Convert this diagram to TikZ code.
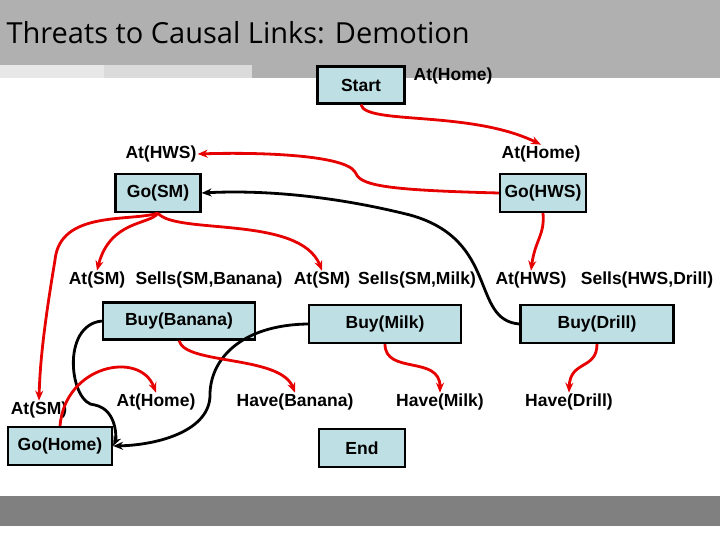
\documentclass[tikz,border=0pt]{standalone}
\usepackage{fontspec}
\setmainfont{Liberation Sans}
\newfontfamily\titlefont{Open Sans}
\usetikzlibrary{arrows.meta}
\definecolor{boxblue}{RGB}{190,223,227}
\definecolor{linkred}{RGB}{230,0,0}
\begin{document}
\begin{tikzpicture}[x=1pt,y=-1pt,
    action/.style={draw,line width=2.2pt,fill=boxblue,font=\bfseries\fontsize{17.5}{19}\selectfont,inner sep=0pt},
    cond/.style={font=\bfseries\fontsize{17.5}{19}\selectfont,inner sep=1pt},
    causal/.style={-{Stealth[length=10pt,width=8pt]},linkred,line width=2.8pt},
    order/.style={-{Stealth[length=10pt,width=8pt]},black,line width=2.8pt}]
    \useasboundingbox (0,0) rectangle (720,540);
    % title bar
    \fill[black!31] (0,0) rectangle (720,78);
    \fill[black!9] (0,65) rectangle (104,78);
    \fill[black!14] (104,65) rectangle (252,78);
    \node[anchor=west,font=\titlefont\fontsize{29}{33}\selectfont] (title) at (3,33) {Threats to Causal Links: Demotion};
    \fill[black!50] (0,496) rectangle (720,526);

    % actions
    \node[action,minimum width=87pt,minimum height=37pt] (start) at (361,85) {Start};
    \node[action,minimum width=85pt,minimum height=38pt] (gosm) at (158,193) {Go(SM)};
    \node[action,minimum width=86pt,minimum height=38pt] (gohws) at (543,193) {Go(HWS)};
    \node[action,minimum width=152pt,minimum height=37pt] (buyban) at (179,321) {Buy(Banana)};
    \node[action,minimum width=152pt,minimum height=38pt] (buymilk) at (385,324) {Buy(Milk)};
    \node[action,minimum width=153pt,minimum height=38pt] (buydrill) at (597,324) {Buy(Drill)};
    \node[action,minimum width=104pt,minimum height=38pt] (gohome) at (60,446) {Go(Home)};
    \node[action,minimum width=86pt,minimum height=38pt] (end) at (362,448) {End};

    % conditions
    \node[cond] (athome0) at (453,76) {At(Home)};
    \node[cond] (athws1) at (161,154) {At(HWS)};
    \node[cond] (athome1) at (541,154) {At(Home)};
    \node[cond] (atsm1) at (97,280) {At(SM)};
    \node[cond] (sellsban) at (209,280) {Sells(SM,Banana)};
    \node[cond] (atsm2) at (322,280) {At(SM)};
    \node[cond] (sellsmilk) at (417,280) {Sells(SM,Milk)};
    \node[cond] (athws2) at (531,280) {At(HWS)};
    \node[cond] (sellsdrill) at (647,280) {Sells(HWS,Drill)};
    \node[cond] (atsm3) at (39,410) {At(SM)};
    \node[cond] (athome2) at (156,402) {At(Home)};
    \node[cond] (haveban) at (295,402) {Have(Banana)};
    \node[cond] (havemilk) at (440,402) {Have(Milk)};
    \node[cond] (havedrill) at (569,402) {Have(Drill)};

    % ordering links
    \draw[order] (buydrill.west) .. controls (470,320) and (500,240) .. (410,215)
        .. controls (330,195) and (260,190) .. (gosm.east);
    \draw[order] (buymilk.west) .. controls (240,325) and (210,360) .. (210,395)
        .. controls (210,430) and (160,445) .. (gohome.east);
    \draw[order] (buyban.west) .. controls (60,325) and (70,405) .. (95,405)
        .. controls (118,410) and (116,440) .. (gohome.east);

    % causal links
    \draw[causal] (start.south) .. controls (365,125) and (470,110) .. (athome1.north);
    \draw[causal] (gohws.west) .. controls (380,190) and (360,185) .. (355,172)
        .. controls (345,155) and (260,152) .. (athws1.east);
    \draw[causal] (gohws.south) .. controls (545,235) and (535,240) .. (athws2.north);
    \draw[causal] (gosm.south) .. controls (150,225) and (110,220) .. (atsm1.north);
    \draw[causal] (gosm.south) .. controls (175,235) and (300,215) .. (atsm2.north);
    \draw[causal] (gosm.south) .. controls (130,222) and (60,210) .. (55,260)
        .. controls (45,320) and (40,360) .. (atsm3.north);
    \draw[causal] (buyban.south) .. controls (185,365) and (280,355) .. (haveban.north);
    \draw[causal] (buymilk.south) .. controls (385,375) and (440,355) .. (havemilk.north);
    \draw[causal] (buydrill.south) .. controls (597,370) and (570,360) .. (havedrill.north);
    \draw[causal] (gohome.north) .. controls (65,365) and (140,350) .. (athome2.north);
\end{tikzpicture}
\end{document}
